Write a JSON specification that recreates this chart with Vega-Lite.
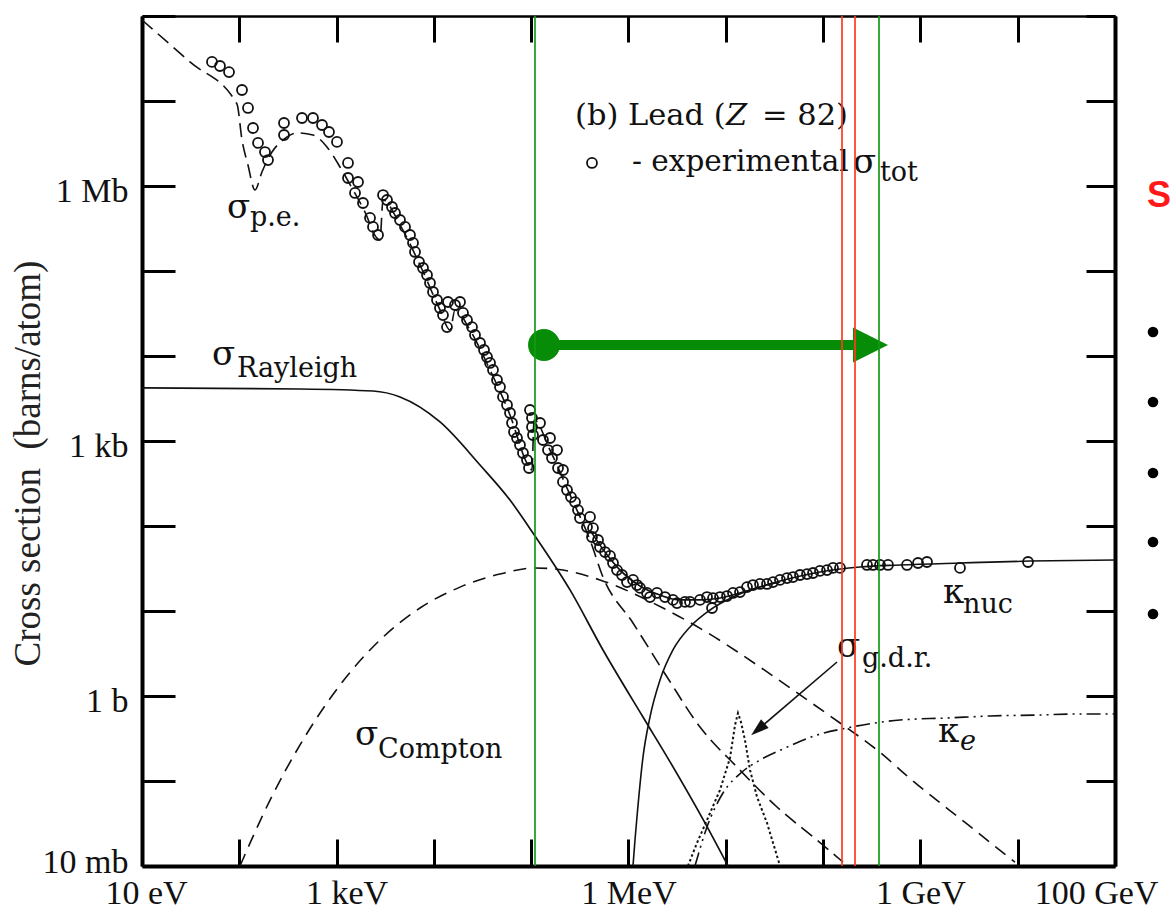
{
  "$schema": "https://vega.github.io/schema/vega-lite/v6.json",
  "width": 973,
  "height": 850,
  "autosize": {"type": "none"},
  "padding": {"left": 142, "top": 16, "right": 58, "bottom": 46},
  "background": "white",
  "config": {"view": {"stroke": null}, "axis": {"grid": false}},
  "datasets": {
    "curves": [
      {"process": "rayleigh", "E": 10, "xs": 4207},
      {"process": "rayleigh", "E": 421, "xs": 4093},
      {"process": "rayleigh", "E": 2366, "xs": 3873},
      {"process": "rayleigh", "E": 4487, "xs": 3296},
      {"process": "rayleigh", "E": 11560, "xs": 1675},
      {"process": "rayleigh", "E": 29790, "xs": 522},
      {"process": "rayleigh", "E": 60530, "xs": 202},
      {"process": "rayleigh", "E": 104200, "xs": 82.8},
      {"process": "rayleigh", "E": 250600, "xs": 17.7},
      {"process": "rayleigh", "E": 547000, "xs": 3.48},
      {"process": "rayleigh", "E": 1409000, "xs": 0.566},
      {"process": "rayleigh", "E": 2673000, "xs": 0.168},
      {"process": "rayleigh", "E": 6110000, "xs": 0.0321},
      {"process": "rayleigh", "E": 10540000, "xs": 0.01},

      {"process": "compton", "E": 101.6, "xs": 0.01},
      {"process": "compton", "E": 207, "xs": 0.0597},
      {"process": "compton", "E": 421, "xs": 0.266},
      {"process": "compton", "E": 1084, "xs": 1.346},
      {"process": "compton", "E": 2793, "xs": 4.56},
      {"process": "compton", "E": 7194, "xs": 10.84},
      {"process": "compton", "E": 18540, "xs": 19.1},
      {"process": "compton", "E": 47750, "xs": 27.2},
      {"process": "compton", "E": 109400, "xs": 32.1},
      {"process": "compton", "E": 212300, "xs": 30.3},
      {"process": "compton", "E": 509000, "xs": 23.2},
      {"process": "compton", "E": 2264000, "xs": 10.84},
      {"process": "compton", "E": 5830000, "xs": 5.97},
      {"process": "compton", "E": 22490000, "xs": 2.19},
      {"process": "compton", "E": 58000000, "xs": 1.03},
      {"process": "compton", "E": 149300000, "xs": 0.481},
      {"process": "compton", "E": 358000000, "xs": 0.232},
      {"process": "compton", "E": 839000000, "xs": 0.1},
      {"process": "compton", "E": 3010000000, "xs": 0.0312},
      {"process": "compton", "E": 9370000000, "xs": 0.0111},

      {"process": "photo", "E": 10, "xs": 89700000},
      {"process": "photo", "E": 31.1, "xs": 28800000},
      {"process": "photo", "E": 94.6, "xs": 9220000},
      {"process": "photo", "E": 106.6, "xs": 3480000},
      {"process": "photo", "E": 122.7, "xs": 1766000},
      {"process": "photo", "E": 144.9, "xs": 897000},
      {"process": "photo", "E": 171, "xs": 1462000},
      {"process": "photo", "E": 216.7, "xs": 2510000},
      {"process": "photo", "E": 281.2, "xs": 3480000},
      {"process": "photo", "E": 391.5, "xs": 4210000},
      {"process": "photo", "E": 571.7, "xs": 3980000},
      {"process": "photo", "E": 796.1, "xs": 2880000},
      {"process": "photo", "E": 1084, "xs": 1674000},
      {"process": "photo", "E": 1439, "xs": 946000},
      {"process": "photo", "E": 1958, "xs": 494000},
      {"process": "photo", "E": 2600, "xs": 244000},
      {"process": "photo", "E": 2793, "xs": 232000},
      {"process": "photo", "E": 2999, "xs": 684000},
      {"process": "photo", "E": 4487, "xs": 348000},
      {"process": "photo", "E": 7194, "xs": 117700},
      {"process": "photo", "E": 11560, "xs": 34800},
      {"process": "photo", "E": 14660, "xs": 20200},
      {"process": "photo", "E": 16480, "xs": 34800},
      {"process": "photo", "E": 23500, "xs": 20200},
      {"process": "photo", "E": 37760, "xs": 6840},
      {"process": "photo", "E": 60530, "xs": 2020},
      {"process": "photo", "E": 92700, "xs": 522},
      {"process": "photo", "E": 101900, "xs": 456},
      {"process": "photo", "E": 106900, "xs": 1766},
      {"process": "photo", "E": 156000, "xs": 783},
      {"process": "photo", "E": 250600, "xs": 232},
      {"process": "photo", "E": 401800, "xs": 68.4},
      {"process": "photo", "E": 547000, "xs": 25.1},
      {"process": "photo", "E": 1112000, "xs": 7.23},
      {"process": "photo", "E": 2489000, "xs": 1.674},
      {"process": "photo", "E": 5430000, "xs": 0.431},
      {"process": "photo", "E": 13030000, "xs": 0.146},
      {"process": "photo", "E": 33600000, "xs": 0.0494},
      {"process": "photo", "E": 86500000, "xs": 0.0202},
      {"process": "photo", "E": 160300000, "xs": 0.0111},

      {"process": "total", "E": 401800, "xs": 89.7},
      {"process": "total", "E": 573000, "xs": 49.4},
      {"process": "total", "E": 818000, "xs": 30.3},
      {"process": "total", "E": 1312000, "xs": 19.7},
      {"process": "total", "E": 2108000, "xs": 15.4},
      {"process": "total", "E": 3380000, "xs": 13.5},
      {"process": "total", "E": 5430000, "xs": 13.5},
      {"process": "total", "E": 8710000, "xs": 14.2},
      {"process": "total", "E": 17740000, "xs": 17.7},
      {"process": "total", "E": 36100000, "xs": 22.5},
      {"process": "total", "E": 92900000, "xs": 28.8},
      {"process": "total", "E": 239300000, "xs": 33.0},
      {"process": "total", "E": 617000000, "xs": 34.8},
      {"process": "total", "E": 2553000000, "xs": 36.7},
      {"process": "total", "E": 13370000000, "xs": 38.7},
      {"process": "total", "E": 100000000000, "xs": 39.8},

      {"process": "knuc", "E": 1112000, "xs": 0.01},
      {"process": "knuc", "E": 1166000, "xs": 0.0202},
      {"process": "knuc", "E": 1222000, "xs": 0.0377},
      {"process": "knuc", "E": 1409000, "xs": 0.191},
      {"process": "knuc", "E": 1663000, "xs": 0.566},
      {"process": "knuc", "E": 2108000, "xs": 1.542},
      {"process": "knuc", "E": 2864000, "xs": 3.48},
      {"process": "knuc", "E": 4290000, "xs": 6.49},
      {"process": "knuc", "E": 6890000, "xs": 10.28},
      {"process": "knuc", "E": 11860000, "xs": 14.6},
      {"process": "knuc", "E": 17740000, "xs": 17.7},
      {"process": "knuc", "E": 36100000, "xs": 21.9},

      {"process": "ke", "E": 4820000, "xs": 0.01},
      {"process": "ke", "E": 6410000, "xs": 0.0288},
      {"process": "ke", "E": 9350000, "xs": 0.0723},
      {"process": "ke", "E": 14690000, "xs": 0.1276},
      {"process": "ke", "E": 22490000, "xs": 0.1766},
      {"process": "ke", "E": 40600000, "xs": 0.244},
      {"process": "ke", "E": 86500000, "xs": 0.3475},
      {"process": "ke", "E": 176200000, "xs": 0.421},
      {"process": "ke", "E": 617000000, "xs": 0.522},
      {"process": "ke", "E": 1876000000, "xs": 0.551},
      {"process": "ke", "E": 5190000000, "xs": 0.582},
      {"process": "ke", "E": 15780000000, "xs": 0.597},
      {"process": "ke", "E": 43700000000, "xs": 0.614},
      {"process": "ke", "E": 100000000000, "xs": 0.614},

      {"process": "gdr", "E": 4080000, "xs": 0.01},
      {"process": "gdr", "E": 5060000, "xs": 0.0187},
      {"process": "gdr", "E": 6890000, "xs": 0.0421},
      {"process": "gdr", "E": 8710000, "xs": 0.0783},
      {"process": "gdr", "E": 11040000, "xs": 0.1866},
      {"process": "gdr", "E": 12440000, "xs": 0.456},
      {"process": "gdr", "E": 13340000, "xs": 0.631},
      {"process": "gdr", "E": 14320000, "xs": 0.494},
      {"process": "gdr", "E": 15740000, "xs": 0.303},
      {"process": "gdr", "E": 17740000, "xs": 0.1346},
      {"process": "gdr", "E": 20940000, "xs": 0.0649},
      {"process": "gdr", "E": 26510000, "xs": 0.0321},
      {"process": "gdr", "E": 36100000, "xs": 0.01}
    ],
    "measured": [
      {"E": 52.4, "xs": 28800000}, {"E": 63.3, "xs": 25800000}, {"E": 78.4, "xs": 21900000},
      {"E": 106.6, "xs": 13470000}, {"E": 122.9, "xs": 8280000}, {"E": 138.3, "xs": 4810000},
      {"E": 155.7, "xs": 3210000}, {"E": 183.7, "xs": 2510000}, {"E": 197.2, "xs": 2020000},
      {"E": 288, "xs": 5510000}, {"E": 288, "xs": 3980000}, {"E": 441, "xs": 6310000},
      {"E": 572, "xs": 6310000}, {"E": 708, "xs": 5220000}, {"E": 835, "xs": 4320000},
      {"E": 1009, "xs": 3300000}, {"E": 1310, "xs": 1866000}, {"E": 1310, "xs": 1242000},
      {"E": 1660, "xs": 1114000}, {"E": 1546, "xs": 828000}, {"E": 1867, "xs": 631000},
      {"E": 2204, "xs": 421000}, {"E": 2366, "xs": 330000}, {"E": 2665, "xs": 265000},
      {"E": 3000, "xs": 783000}, {"E": 3296, "xs": 684000}, {"E": 3710, "xs": 566000},
      {"E": 3983, "xs": 481000}, {"E": 4483, "xs": 398000}, {"E": 5047, "xs": 330000},
      {"E": 5680, "xs": 265000}, {"E": 6100, "xs": 214000}, {"E": 6394, "xs": 167500},
      {"E": 7030, "xs": 127600}, {"E": 7727, "xs": 108400}, {"E": 8494, "xs": 89700},
      {"E": 9118, "xs": 72200}, {"E": 9790, "xs": 56600}, {"E": 10760, "xs": 45600},
      {"E": 11550, "xs": 36700}, {"E": 12400, "xs": 30300}, {"E": 13630, "xs": 21900},
      {"E": 13960, "xs": 43200}, {"E": 16480, "xs": 39800}, {"E": 18550, "xs": 43200},
      {"E": 19910, "xs": 32100}, {"E": 21890, "xs": 26500}, {"E": 24640, "xs": 21900},
      {"E": 26450, "xs": 17660}, {"E": 29780, "xs": 14220}, {"E": 32730, "xs": 11770},
      {"E": 35130, "xs": 9730}, {"E": 37730, "xs": 8280}, {"E": 40490, "xs": 6840},
      {"E": 44510, "xs": 5220}, {"E": 47780, "xs": 4320}, {"E": 51310, "xs": 3300},
      {"E": 56410, "xs": 2650}, {"E": 60550, "xs": 2135}, {"E": 63490, "xs": 1629},
      {"E": 66560, "xs": 1276}, {"E": 71460, "xs": 1084}, {"E": 76700, "xs": 897},
      {"E": 82340, "xs": 722}, {"E": 90520, "xs": 597}, {"E": 94930, "xs": 481},
      {"E": 97200, "xs": 2316}, {"E": 101900, "xs": 1866}, {"E": 101900, "xs": 1462},
      {"E": 104300, "xs": 1177}, {"E": 123200, "xs": 1629}, {"E": 132200, "xs": 1028},
      {"E": 148800, "xs": 783}, {"E": 156000, "xs": 1084}, {"E": 163600, "xs": 631},
      {"E": 184200, "xs": 783}, {"E": 188600, "xs": 481}, {"E": 212200, "xs": 456},
      {"E": 212200, "xs": 330}, {"E": 233300, "xs": 265}, {"E": 256600, "xs": 219},
      {"E": 282000, "xs": 191}, {"E": 302700, "xs": 154}, {"E": 317300, "xs": 124},
      {"E": 374500, "xs": 97.3}, {"E": 402000, "xs": 128}, {"E": 421500, "xs": 74.2},
      {"E": 431600, "xs": 94.6}, {"E": 486000, "xs": 68.4}, {"E": 509500, "xs": 56.6},
      {"E": 573400, "xs": 49.4}, {"E": 645400, "xs": 44.4}, {"E": 693000, "xs": 36.7},
      {"E": 761900, "xs": 30.3}, {"E": 857700, "xs": 26.5}, {"E": 965200, "xs": 21.9},
      {"E": 1113000, "xs": 23.2}, {"E": 1223000, "xs": 20.2}, {"E": 1313000, "xs": 18.7},
      {"E": 1549000, "xs": 16.3}, {"E": 1663000, "xs": 14.6}, {"E": 1963000, "xs": 16.3},
      {"E": 2372000, "xs": 14.6}, {"E": 2866000, "xs": 13.5}, {"E": 3151000, "xs": 12.4},
      {"E": 3808000, "xs": 12.8}, {"E": 4287000, "xs": 12.8}, {"E": 5430000, "xs": 13.5},
      {"E": 6410000, "xs": 14.6}, {"E": 7220000, "xs": 10.84}, {"E": 7390000, "xs": 14.2},
      {"E": 8720000, "xs": 14.6}, {"E": 10290000, "xs": 15.0}, {"E": 11860000, "xs": 16.3},
      {"E": 13990000, "xs": 16.7}, {"E": 16520000, "xs": 19.1}, {"E": 19030000, "xs": 20.2},
      {"E": 22460000, "xs": 20.8}, {"E": 26510000, "xs": 20.8}, {"E": 30560000, "xs": 21.9},
      {"E": 36060000, "xs": 23.2}, {"E": 42560000, "xs": 24.4}, {"E": 49050000, "xs": 25.1},
      {"E": 57900000, "xs": 26.5}, {"E": 68300000, "xs": 27.2}, {"E": 78800000, "xs": 28.0},
      {"E": 92900000, "xs": 29.6}, {"E": 109700000, "xs": 30.3}, {"E": 126400000, "xs": 32.1},
      {"E": 149200000, "xs": 32.1}, {"E": 282600000, "xs": 34.8}, {"E": 325600000, "xs": 34.8},
      {"E": 384400000, "xs": 34.8}, {"E": 464500000, "xs": 34.8}, {"E": 728500000, "xs": 34.8},
      {"E": 945000000, "xs": 36.7}, {"E": 1169000000, "xs": 37.7}, {"E": 2552000000, "xs": 32.1},
      {"E": 12760000000, "xs": 37.7}
    ],
    "key": [{"E": 421500, "xs": 1866000}],
    "notes": [
      {"role": "symbol", "text": "σ", "E": 52.4, "xs": 7834},
      {"role": "sub", "text": "Rayleigh", "E": 94.7, "xs": 5662},
      {"role": "symbol", "text": "σ", "E": 74.7, "xs": 421000},
      {"role": "sub", "text": "p.e.", "E": 128.8, "xs": 338000},
      {"role": "symbol", "text": "σ", "E": 1546, "xs": 0.266},
      {"role": "sub", "text": "Compton", "E": 2665, "xs": 0.1866},
      {"role": "symbol", "text": "σ", "E": 139000000, "xs": 2.877},
      {"role": "sub", "text": "g.d.r.", "E": 251000000, "xs": 2.193},
      {"role": "symbol", "text": "κ", "E": 1708000000, "xs": 12.42},
      {"role": "sub", "text": "nuc", "E": 2740000000, "xs": 9.47},
      {"role": "symbol", "text": "κ", "E": 1517000000, "xs": 0.288},
      {"role": "subitalic", "text": "e", "E": 2552000000, "xs": 0.232},
      {"role": "symbol", "text": "σ", "E": 202900000, "xs": 1422000},
      {"role": "sub", "text": "tot", "E": 384400000, "xs": 1145000},
      {"role": "title", "text": "(b) Lead (", "E": 282000, "xs": 5220000},
      {"role": "titleitalic", "text": "Z", "E": 10050000, "xs": 5220000},
      {"role": "title", "text": "= 82)", "E": 23550000, "xs": 5220000},
      {"role": "caption", "text": "- experimental", "E": 1087000, "xs": 1500000}
    ],
    "pointer": [{"E": 139000000, "xs": 2.512, "E2": 21430000, "xs2": 0.4036}],
    "span": [{"E": 135400, "E2": 212800000, "xs": 13460, "Ehead": 307000000}],
    "cuts": [
      {"E": 109400, "set": "a"},
      {"E": 156400000, "set": "b"},
      {"E": 212800000, "set": "b"},
      {"E": 375400000, "set": "a"}
    ],
    "side": [
      {"E": 245700000000, "xs": 19160},
      {"E": 245700000000, "xs": 2877},
      {"E": 245700000000, "xs": 420.7},
      {"E": 245700000000, "xs": 64.9},
      {"E": 245700000000, "xs": 9.22}
    ],
    "heading": [{"E": 213300000000, "xs": 566000, "text": "S"}]
  },
  "layer": [
    {
      "data": {"name": "curves"},
      "transform": [{"filter": "datum.process == 'compton'"}],
      "mark": {"type": "line", "stroke": "#111", "strokeWidth": 1.6, "strokeDash": [13, 8], "interpolate": "monotone"},
      "encoding": {
        "x": {"field": "E", "type": "quantitative", "scale": {"type": "log", "domain": [10, 100000000000], "nice": false},
          "axis": {"orient": "top", "values": [10, 100, 1000, 10000, 100000, 1000000, 10000000, 100000000, 1000000000, 10000000000, 100000000000],
            "labels": false, "title": null, "tickSize": -26, "tickWidth": 3, "tickColor": "#000", "domainColor": "#000", "domainWidth": 2.5}},
        "y": {"field": "xs", "type": "quantitative", "scale": {"type": "log", "domain": [0.01, 100000000], "nice": false},
          "axis": {"orient": "right", "values": [0.01, 0.1, 1, 10, 100, 1000, 10000, 100000, 1000000, 10000000, 100000000],
            "labels": false, "title": null, "tickSize": -29, "tickWidth": 3, "tickColor": "#000", "domainColor": "#000", "domainWidth": 4}}
      }
    },
    {
      "data": {"name": "curves"},
      "transform": [{"filter": "datum.process == 'photo'"}],
      "mark": {"type": "line", "stroke": "#111", "strokeWidth": 1.6, "strokeDash": [14, 7], "interpolate": "monotone"},
      "encoding": {
        "x": {"field": "E", "type": "quantitative", "scale": {"type": "log", "domain": [10, 100000000000], "nice": false}, "axis": null},
        "y": {"field": "xs", "type": "quantitative", "scale": {"type": "log", "domain": [0.01, 100000000], "nice": false}, "axis": null}
      }
    },
    {
      "data": {"name": "curves"},
      "transform": [{"filter": "datum.process == 'rayleigh'"}],
      "mark": {"type": "line", "stroke": "#111", "strokeWidth": 1.7, "interpolate": "monotone"},
      "encoding": {
        "x": {"field": "E", "type": "quantitative", "scale": {"type": "log", "domain": [10, 100000000000], "nice": false},
          "axis": {"orient": "bottom", "values": [10, 100, 1000, 10000, 100000, 1000000, 10000000, 100000000, 1000000000, 10000000000, 100000000000],
            "title": null, "tickSize": -27, "tickWidth": 3, "tickColor": "#000", "domainColor": "#000", "domainWidth": 4,
            "labelExpr": "datum.value == 10 ? '10 eV' : datum.value == 1000 ? '1 keV' : datum.value == 1000000 ? '1 MeV' : datum.value == 1000000000 ? '1 GeV' : datum.value == 100000000000 ? '100 GeV' : ''",
            "labelFont": "Liberation Serif", "labelFontSize": 34, "labelColor": "#111", "labelPadding": 37,
            "labelOverlap": false, "labelFlush": false,
            "labelOffset": {"condition": [{"test": "datum.value > 10000000000", "value": -19}, {"test": "datum.value < 100", "value": 4}, {"test": "datum.value == 1000", "value": 10}], "value": 0}}},
        "y": {"field": "xs", "type": "quantitative", "scale": {"type": "log", "domain": [0.01, 100000000], "nice": false},
          "axis": {"orient": "left", "values": [0.01, 0.1, 1, 10, 100, 1000, 10000, 100000, 1000000, 10000000, 100000000],
            "tickSize": -33, "tickWidth": 3, "tickColor": "#000", "domainColor": "#000", "domainWidth": 4,
            "labelExpr": "datum.value == 1000000 ? '1 Mb' : datum.value == 1000 ? '1 kb' : datum.value == 1 ? '1 b' : datum.value == 0.01 ? '10 mb' : ''",
            "labelFont": "Liberation Serif", "labelFontSize": 34, "labelColor": "#111", "labelPadding": 47, "labelBaseline": "middle",
            "labelOverlap": false, "labelFlush": false,
            "labelOffset": {"condition": {"test": "datum.value < 0.1", "value": -4}, "value": 5},
            "title": "Cross section\u00a0 (barns/atom)", "titleFont": "Liberation Serif", "titleFontSize": 37, "titleFontWeight": "normal",
            "titleColor": "#222", "titleAngle": -90, "titleX": -114, "titleY": 447, "titleAlign": "center", "titleBaseline": "middle"}}
      }
    },
    {
      "data": {"name": "curves"},
      "transform": [{"filter": "datum.process == 'knuc' || datum.process == 'total'"}],
      "mark": {"type": "line", "stroke": "#111", "strokeWidth": 1.6, "interpolate": "monotone"},
      "encoding": {
        "x": {"field": "E", "type": "quantitative", "scale": {"type": "log", "domain": [10, 100000000000], "nice": false}, "axis": null},
        "y": {"field": "xs", "type": "quantitative", "scale": {"type": "log", "domain": [0.01, 100000000], "nice": false}, "axis": null},
        "detail": {"field": "process"}
      }
    },
    {
      "data": {"name": "curves"},
      "transform": [{"filter": "datum.process == 'ke'"}],
      "mark": {"type": "line", "stroke": "#111", "strokeWidth": 1.6, "strokeDash": [14, 5, 2, 5, 2, 5], "interpolate": "monotone"},
      "encoding": {
        "x": {"field": "E", "type": "quantitative", "scale": {"type": "log", "domain": [10, 100000000000], "nice": false}, "axis": null},
        "y": {"field": "xs", "type": "quantitative", "scale": {"type": "log", "domain": [0.01, 100000000], "nice": false}, "axis": null}
      }
    },
    {
      "data": {"name": "curves"},
      "transform": [{"filter": "datum.process == 'gdr'"}],
      "mark": {"type": "line", "stroke": "#111", "strokeWidth": 2, "strokeDash": [2.5, 2.5], "interpolate": "linear"},
      "encoding": {
        "x": {"field": "E", "type": "quantitative", "scale": {"type": "log", "domain": [10, 100000000000], "nice": false}, "axis": null},
        "y": {"field": "xs", "type": "quantitative", "scale": {"type": "log", "domain": [0.01, 100000000], "nice": false}, "axis": null}
      }
    },
    {
      "data": {"name": "pointer"},
      "mark": {"type": "rule", "stroke": "#111", "strokeWidth": 1.6},
      "encoding": {
        "x": {"field": "E", "type": "quantitative", "scale": {"type": "log", "domain": [10, 100000000000], "nice": false}, "axis": null},
        "x2": {"field": "E2"},
        "y": {"field": "xs", "type": "quantitative", "scale": {"type": "log", "domain": [0.01, 100000000], "nice": false}, "axis": null},
        "y2": {"field": "xs2"}
      }
    },
    {
      "data": {"name": "pointer"},
      "mark": {"type": "point", "shape": "M1,0L-1,-0.65L-1,0.65Z", "filled": true, "size": 324, "angle": 139.6, "color": "#111", "opacity": 1},
      "encoding": {
        "x": {"field": "E2", "type": "quantitative", "scale": {"type": "log", "domain": [10, 100000000000], "nice": false}, "axis": null},
        "y": {"field": "xs2", "type": "quantitative", "scale": {"type": "log", "domain": [0.01, 100000000], "nice": false}, "axis": null}
      }
    },
    {
      "data": {"name": "measured"},
      "mark": {"type": "point", "shape": "circle", "filled": false, "size": 100, "color": "#111", "strokeWidth": 1.8, "opacity": 1},
      "encoding": {
        "x": {"field": "E", "type": "quantitative", "scale": {"type": "log", "domain": [10, 100000000000], "nice": false}, "axis": null},
        "y": {"field": "xs", "type": "quantitative", "scale": {"type": "log", "domain": [0.01, 100000000], "nice": false}, "axis": null}
      }
    },
    {
      "data": {"name": "key"},
      "mark": {"type": "point", "shape": "circle", "filled": false, "size": 100, "color": "#111", "strokeWidth": 1.8, "opacity": 1},
      "encoding": {
        "x": {"field": "E", "type": "quantitative", "scale": {"type": "log", "domain": [10, 100000000000], "nice": false}, "axis": null},
        "y": {"field": "xs", "type": "quantitative", "scale": {"type": "log", "domain": [0.01, 100000000], "nice": false}, "axis": null}
      }
    },
    {
      "data": {"name": "notes"},
      "transform": [{"filter": "datum.role == 'symbol'"}],
      "mark": {"type": "text", "font": "DejaVu Serif", "fontSize": 34, "align": "left", "baseline": "alphabetic", "color": "#111"},
      "encoding": {
        "x": {"field": "E", "type": "quantitative", "scale": {"type": "log", "domain": [10, 100000000000], "nice": false}, "axis": null},
        "y": {"field": "xs", "type": "quantitative", "scale": {"type": "log", "domain": [0.01, 100000000], "nice": false}, "axis": null},
        "text": {"field": "text"}
      }
    },
    {
      "data": {"name": "notes"},
      "transform": [{"filter": "datum.role == 'sub'"}],
      "mark": {"type": "text", "font": "DejaVu Serif", "fontSize": 27, "align": "left", "baseline": "alphabetic", "color": "#111"},
      "encoding": {
        "x": {"field": "E", "type": "quantitative", "scale": {"type": "log", "domain": [10, 100000000000], "nice": false}, "axis": null},
        "y": {"field": "xs", "type": "quantitative", "scale": {"type": "log", "domain": [0.01, 100000000], "nice": false}, "axis": null},
        "text": {"field": "text"}
      }
    },
    {
      "data": {"name": "notes"},
      "transform": [{"filter": "datum.role == 'subitalic'"}],
      "mark": {"type": "text", "font": "DejaVu Serif", "fontSize": 27, "fontStyle": "italic", "align": "left", "baseline": "alphabetic", "color": "#111"},
      "encoding": {
        "x": {"field": "E", "type": "quantitative", "scale": {"type": "log", "domain": [10, 100000000000], "nice": false}, "axis": null},
        "y": {"field": "xs", "type": "quantitative", "scale": {"type": "log", "domain": [0.01, 100000000], "nice": false}, "axis": null},
        "text": {"field": "text"}
      }
    },
    {
      "data": {"name": "notes"},
      "transform": [{"filter": "datum.role == 'caption'"}],
      "mark": {"type": "text", "font": "DejaVu Serif", "fontSize": 29.5, "align": "left", "baseline": "alphabetic", "color": "#111"},
      "encoding": {
        "x": {"field": "E", "type": "quantitative", "scale": {"type": "log", "domain": [10, 100000000000], "nice": false}, "axis": null},
        "y": {"field": "xs", "type": "quantitative", "scale": {"type": "log", "domain": [0.01, 100000000], "nice": false}, "axis": null},
        "text": {"field": "text"}
      }
    },
    {
      "data": {"name": "notes"},
      "transform": [{"filter": "datum.role == 'title'"}],
      "mark": {"type": "text", "font": "DejaVu Serif", "fontSize": 30.5, "align": "left", "baseline": "alphabetic", "color": "#111"},
      "encoding": {
        "x": {"field": "E", "type": "quantitative", "scale": {"type": "log", "domain": [10, 100000000000], "nice": false}, "axis": null},
        "y": {"field": "xs", "type": "quantitative", "scale": {"type": "log", "domain": [0.01, 100000000], "nice": false}, "axis": null},
        "text": {"field": "text"}
      }
    },
    {
      "data": {"name": "notes"},
      "transform": [{"filter": "datum.role == 'titleitalic'"}],
      "mark": {"type": "text", "font": "DejaVu Serif", "fontSize": 30.5, "fontStyle": "italic", "align": "left", "baseline": "alphabetic", "color": "#111"},
      "encoding": {
        "x": {"field": "E", "type": "quantitative", "scale": {"type": "log", "domain": [10, 100000000000], "nice": false}, "axis": null},
        "y": {"field": "xs", "type": "quantitative", "scale": {"type": "log", "domain": [0.01, 100000000], "nice": false}, "axis": null},
        "text": {"field": "text"}
      }
    },
    {
      "data": {"name": "span"},
      "mark": {"type": "rule", "stroke": "#078c07", "strokeWidth": 10},
      "encoding": {
        "x": {"field": "E", "type": "quantitative", "scale": {"type": "log", "domain": [10, 100000000000], "nice": false}, "axis": null},
        "x2": {"field": "E2"},
        "y": {"field": "xs", "type": "quantitative", "scale": {"type": "log", "domain": [0.01, 100000000], "nice": false}, "axis": null}
      }
    },
    {
      "data": {"name": "span"},
      "mark": {"type": "point", "shape": "circle", "filled": true, "size": 1018, "color": "#078c07", "opacity": 1},
      "encoding": {
        "x": {"field": "E", "type": "quantitative", "scale": {"type": "log", "domain": [10, 100000000000], "nice": false}, "axis": null},
        "y": {"field": "xs", "type": "quantitative", "scale": {"type": "log", "domain": [0.01, 100000000], "nice": false}, "axis": null}
      }
    },
    {
      "data": {"name": "span"},
      "mark": {"type": "point", "shape": "M-1,-1L1,0L-1,1Z", "filled": true, "size": 1225, "color": "#078c07", "opacity": 1},
      "encoding": {
        "x": {"field": "Ehead", "type": "quantitative", "scale": {"type": "log", "domain": [10, 100000000000], "nice": false}, "axis": null},
        "y": {"field": "xs", "type": "quantitative", "scale": {"type": "log", "domain": [0.01, 100000000], "nice": false}, "axis": null}
      }
    },
    {
      "data": {"name": "cuts"},
      "mark": {"type": "rule", "strokeWidth": 1.7},
      "encoding": {
        "x": {"field": "E", "type": "quantitative", "scale": {"type": "log", "domain": [10, 100000000000], "nice": false}, "axis": null},
        "color": {"field": "set", "type": "nominal", "scale": {"domain": ["a", "b"], "range": ["#159a15", "#ff3a1c"]}, "legend": null}
      }
    },
    {
      "data": {"name": "side"},
      "mark": {"type": "point", "shape": "circle", "filled": true, "size": 113, "color": "#000", "opacity": 1},
      "encoding": {
        "x": {"field": "E", "type": "quantitative", "scale": {"type": "log", "domain": [10, 100000000000], "nice": false}, "axis": null},
        "y": {"field": "xs", "type": "quantitative", "scale": {"type": "log", "domain": [0.01, 100000000], "nice": false}, "axis": null}
      }
    },
    {
      "data": {"name": "heading"},
      "mark": {"type": "text", "font": "Liberation Sans", "fontSize": 36, "fontWeight": "bold", "align": "left", "baseline": "alphabetic", "color": "#ff1a1a"},
      "encoding": {
        "x": {"field": "E", "type": "quantitative", "scale": {"type": "log", "domain": [10, 100000000000], "nice": false}, "axis": null},
        "y": {"field": "xs", "type": "quantitative", "scale": {"type": "log", "domain": [0.01, 100000000], "nice": false}, "axis": null},
        "text": {"field": "text"}
      }
    }
  ],
  "resolve": {"axis": {"x": "independent", "y": "independent"}}
}
